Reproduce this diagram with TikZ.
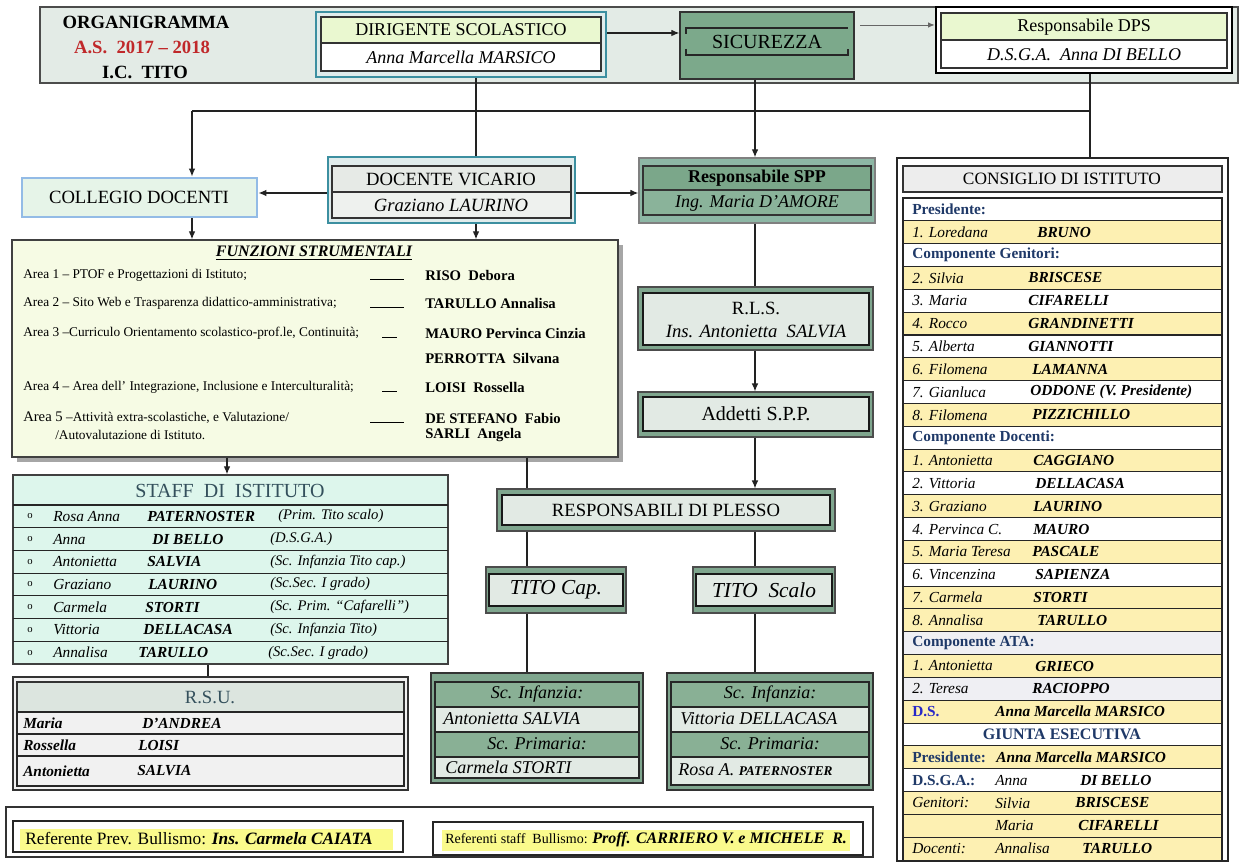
\documentclass[tikz,border=0pt]{standalone}
\usepackage{fontspec}
\setmainfont{Liberation Serif}
\usetikzlibrary{arrows.meta,fit}
\definecolor{bandfill}{HTML}{E3EBE6}
\definecolor{tealfr}{HTML}{3C8FA0}
\definecolor{tealbg}{HTML}{E0ECEC}
\definecolor{limef}{HTML}{EAF8D0}
\definecolor{sicg}{HTML}{7CA98B}
\definecolor{sppo}{HTML}{8DB7A5}
\definecolor{sppi}{HTML}{7BA78A}
\definecolor{sppr}{HTML}{8AB39A}
\definecolor{collf}{HTML}{E6F4E8}
\definecolor{collb}{HTML}{93BBE6}
\definecolor{vichf}{HTML}{E6EAE6}
\definecolor{vicrf}{HTML}{EEF1EE}
\definecolor{fsf}{HTML}{F6FBE4}
\definecolor{stf}{HTML}{DDF6EC}
\definecolor{gro}{HTML}{7FA68E}
\definecolor{gri}{HTML}{E2EAE4}
\definecolor{sch}{HTML}{89B095}
\definecolor{cyel}{HTML}{FDF0B2}
\definecolor{cgry}{HTML}{EFEFF3}
\definecolor{navy}{HTML}{1F3968}
\definecolor{dsblue}{HTML}{2828C8}
\definecolor{hl}{HTML}{FAFA8C}
\definecolor{redt}{HTML}{C0282A}
\definecolor{lc}{HTML}{222222}
\definecolor{rsuh}{HTML}{DCE5DF}
\definecolor{rsur}{HTML}{F1F1F1}
\definecolor{stfh}{HTML}{34505C}
\newcommand\fsz[1]{\fontsize{#1}{#1}\selectfont}
\newcommand\mybox[6]{\node[fit={(#2,#3)(#4,#5)},inner sep=0pt,#6] (#1) {};}
\newcommand\cyy[1]{198+(#1+0.5)*22.83}
\newcommand\syy[1]{505+(#1+0.5)*22.7}
\tikzset{
  ln/.style={draw=lc,line width=0.9pt},
  arr/.style={draw=lc,line width=0.9pt,-{Latex[length=6pt,width=5pt]}},
  arrg/.style={draw=black!60,line width=0.7pt,-{Latex[length=5pt,width=4pt]}},
  tx/.style={inner sep=0pt,text=black},
  txl/.style={tx,anchor=west},
  gout/.style={draw=black!70,line width=0.8pt,fill=gro},
  gin/.style={draw=black!90,line width=1.1pt,fill=gri},
  cx/.style={txl,font=\fsz{11.5}\itshape},
  cs/.style={txl,font=\fsz{11.5}\bfseries\itshape},
  ch/.style={txl,font=\fsz{11.5}\bfseries,text=navy},
  rowln/.style={draw=black!85,line width=0.8pt}
}
\newcommand\srow[6]{%
  \node[txl,font=\fsz{8}] (so#1) at (27,{\syy{#1}}) {o};
  \node[txl,font=\fsz{11.5}\itshape] (sf#1) at (53,{\syy{#1}}) {#2};
  \node[txl,font=\fsz{11.5}\bfseries\itshape] (ss#1) at (#4,{\syy{#1}}) {#3};
  \node[txl,font=\fsz{11}\itshape] (sn#1) at (#6,{\syy{#1}}) {#5};}
\newcommand\crow[4]{%
  \node[cx] (ca#1) at (912,{\cyy{#1}}) {#2};
  \node[cs] (cb#1) at (#4,{\cyy{#1}}) {#3};}
\begin{document}
\begin{tikzpicture}[x=0.75pt,y=-0.75pt]
\useasboundingbox (0,0) rectangle (1242,862);
\fill[white] (0,0) rectangle (1242,862);

% ---------- top band ----------
\mybox{band}{40}{7}{1238}{83}{draw=black!70,line width=1.1pt,fill=bandfill}
\node[tx,font=\fsz{14}\bfseries] (org1) at (146,22) {ORGANIGRAMMA};
\node[tx,font=\fsz{14}\bfseries,text=redt] (org2) at (142,47) {A.S.\ \ 2017 – 2018};
\node[tx,font=\fsz{14}\bfseries] (org3) at (145,72) {I.C.\ \ TITO};

\mybox{dirig}{316}{12}{606}{77}{draw=tealfr,line width=2.2pt,fill=tealbg}
\mybox{dirh}{321}{17}{601}{43}{draw=black!80,line width=0.8pt,fill=limef}
\mybox{dirr}{321}{43}{601}{71}{draw=black!80,line width=0.8pt,fill=white}
\node[tx,font=\fsz{13.5}] (dirt1) at (461,30) {DIRIGENTE SCOLASTICO};
\node[tx,font=\fsz{13.5}\itshape] (dirt2) at (461,57) {Anna Marcella MARSICO};

\mybox{sic}{680}{12}{854}{79}{draw=black!80,line width=1pt,fill=sicg}
\draw[black!85,line width=0.9pt] (686,34) -- (686,28) -- (848,28);
\draw[black!85,line width=0.9pt] (686,49) -- (686,55) -- (848,55) -- (848,49);
\node[tx,font=\fsz{15}] (sict) at (767,42) {SICUREZZA};

\mybox{dps}{936}{7}{1232}{73}{draw=black,line width=1.8pt,fill=white}
\mybox{dpsh}{941}{13}{1227}{40}{draw=black!80,line width=0.8pt,fill=limef}
\mybox{dpsr}{941}{40}{1227}{68}{draw=black!80,line width=0.8pt,fill=white}
\node[tx,font=\fsz{13.5}] (dpst1) at (1084,27) {Responsabile DPS};
\node[tx,font=\fsz{13.5}\itshape] (dpst2) at (1084,55) {D.S.G.A.\ \ Anna DI BELLO};

\coordinate (y33) at (0,33);
\coordinate (y25) at (0,25);
\draw[arr] (dirig.east |- y33) -- (sic.west |- y33);
\draw[arrg,shorten <=4pt] (sic.east |- y25) -- (dps.west |- y25);

% ---------- second row ----------
\mybox{coll}{22}{178}{257}{217}{draw=collb,line width=2.2pt,fill=collf}
\node[tx,font=\fsz{14}] (collt) at (139,197) {COLLEGIO DOCENTI};

\mybox{vic}{328}{157}{575}{223}{draw=tealfr,line width=2.2pt,fill=tealbg}
\mybox{vich}{332}{166}{571}{192}{draw=black!80,line width=0.8pt,fill=vichf}
\mybox{vicr}{332}{192}{571}{218}{draw=black!80,line width=0.8pt,fill=vicrf}
\node[tx,font=\fsz{14}] (vict1) at (451,179) {DOCENTE VICARIO};
\node[tx,font=\fsz{14}\itshape] (vict2) at (451,205) {Graziano LAURINO};

\mybox{spp}{639}{158}{875}{223}{draw=black!50,line width=1pt,fill=sppo}
\mybox{spph}{643}{166}{871}{190}{draw=black!80,line width=0.8pt,fill=sppi}
\mybox{sppr}{643}{190}{871}{215}{draw=black!80,line width=0.8pt,fill=sppr}
\node[tx,font=\fsz{13.5}\bfseries] (sppt1) at (757,178) {Responsabile SPP};
\node[tx,font=\fsz{13.5}\itshape] (sppt2) at (757,203) {Ing. Maria D’AMORE};

% consiglio frame (needed for connector)
\mybox{cons}{897}{158}{1228}{861}{draw=black!85,line width=1.2pt,fill=white}
\mybox{consh}{903}{166}{1222}{192}{draw=black!80,line width=0.8pt,fill=black!7}
\node[tx,font=\fsz{13}] (const) at (1062,179) {CONSIGLIO DI ISTITUTO};

\coordinate (j1) at (192,111);
\coordinate (j2) at (1090,111);
\coordinate (vx) at (476,0);
\coordinate (sx) at (755,0);
\coordinate (y193) at (0,193);
\draw[ln] (dps.south -| j2) -- (cons.north -| j2);
\draw[ln] (j2) -- (j1);
\draw[arr] (j1) -- (coll.north -| j1);
\draw[ln] (dirig.south -| vx) -- (vic.north -| vx);
\draw[arr] (sic.south -| sx) -- (spp.north -| sx);
\draw[arr] (vic.west |- y193) -- (coll.east |- y193);
\draw[arr] (vic.east |- y193) -- (spp.west |- y193);

% ---------- funzioni strumentali ----------
\fill[black!35] (17,245) rectangle (623,462);
\mybox{fs}{12}{240}{618}{457}{draw=black!75,line width=1pt,fill=fsf}
\draw[arr] (coll.south -| j1) -- (fs.north -| j1);
\draw[arr] (vic.south -| vx) -- (fs.north -| vx);
\node[tx,font=\fsz{12}\bfseries\itshape] (fst) at (314,253) {\underline{FUNZIONI STRUMENTALI}};
\node[txl,font=\fsz{10}] (fa1) at (23,275) {Area 1 – PTOF e Progettazioni di Istituto;};
\node[txl,font=\fsz{10}] (fa2) at (23,303) {Area 2 – Sito Web e Trasparenza didattico-amministrativa;};
\node[txl,font=\fsz{10}] (fa3) at (23,333) {Area 3 –Curriculo Orientamento scolastico-prof.le, Continuità;};
\node[txl,font=\fsz{10}] (fa4) at (23,387) {Area 4 – Area dell’ Integrazione, Inclusione e Interculturalità;};
\node[txl,font=\fsz{10}] (fa5) at (23,418) {{\fsz{11}Area 5} –Attività extra-scolastiche, e Valutazione/};
\node[txl,font=\fsz{10}] (fa6) at (55,435) {/Autovalutazione di Istituto.};
\node[tx,anchor=base west] (fb1) at (370,280) {\rule{25.5pt}{0.7pt}};
\node[tx,anchor=base west] (fb2) at (370,308) {\rule{25.5pt}{0.7pt}};
\node[tx,anchor=base west] (fb3) at (382,338) {\rule{11pt}{0.7pt}};
\node[tx,anchor=base west] (fb4) at (382,392) {\rule{11pt}{0.7pt}};
\node[tx,anchor=base west] (fb5) at (370,423) {\rule{25.5pt}{0.7pt}};
\node[txl,font=\fsz{11}\bfseries] (fn1) at (425,275) {RISO\ \ Debora};
\node[txl,font=\fsz{11}\bfseries] (fn2) at (425,303) {TARULLO Annalisa};
\node[txl,font=\fsz{11}\bfseries] (fn3) at (425,333) {MAURO Pervinca Cinzia};
\node[txl,font=\fsz{11}\bfseries] (fn4) at (425,358) {PERROTTA\ \ Silvana};
\node[txl,font=\fsz{11}\bfseries] (fn5) at (425,387) {LOISI\ \ Rossella};
\node[txl,font=\fsz{11}\bfseries] (fn6) at (425,418) {DE STEFANO\ \ Fabio};
\node[txl,font=\fsz{11}\bfseries] (fn7) at (425,435) {SARLI\ \ Angela};

% ---------- staff ----------
\coordinate (sfx) at (227,0);
\mybox{staff}{13}{475}{448}{664}{draw=black!75,line width=1pt,fill=stf}
\draw[arr] (fs.south -| sfx) -- (staff.north -| sfx);
\foreach \k in {0,...,6} \draw[rowln] (13,{505+\k*22.7}) -- (448,{505+\k*22.7});
\node[tx,font=\fsz{15},text=stfh] (stt) at (230,491) {STAFF\ \ DI\ \ ISTITUTO};
\srow{0}{Rosa Anna}{PATERNOSTER}{147}{(Prim. Tito scalo)}{278}
\srow{1}{Anna}{DI BELLO}{152}{(D.S.G.A.)}{270}
\srow{2}{Antonietta}{SALVIA}{147}{(Sc. Infanzia Tito cap.)}{270}
\srow{3}{Graziano}{LAURINO}{148}{(Sc.Sec. I grado)}{270}
\srow{4}{Carmela}{STORTI}{145}{(Sc. Prim. “Cafarelli”)}{270}
\srow{5}{Vittoria}{DELLACASA}{143}{(Sc. Infanzia Tito)}{270}
\srow{6}{Annalisa}{TARULLO}{138}{(Sc.Sec. I grado)}{268}

% ---------- RSU ----------
\coordinate (rx) at (208,0);
\mybox{rsu}{13}{677}{408}{790}{draw=black!80,line width=1pt,fill=rsur}
\draw[ln] (staff.south -| rx) -- (rsu.north -| rx);
\mybox{rsuhd}{17}{682}{404}{712}{draw=black!80,line width=0.8pt,fill=rsuh}
\draw[rowln] (17,712) rectangle (404,786);
\draw[rowln] (17,734) -- (404,734);
\draw[rowln] (17,756) -- (404,756);
\node[tx,font=\fsz{14},text=stfh] (rsut) at (210,697) {R.S.U.};
\node[txl,font=\fsz{11.5}\bfseries\itshape] (ru1) at (23,723) {Maria};
\node[txl,font=\fsz{11.5}\bfseries\itshape] (ru2) at (142,723) {D’ANDREA};
\node[txl,font=\fsz{11.5}\bfseries\itshape] (ru3) at (23,745) {Rossella};
\node[txl,font=\fsz{11.5}\bfseries\itshape] (ru4) at (138,745) {LOISI};
\node[txl,font=\fsz{11.5}\bfseries\itshape] (ru5) at (23,771) {Antonietta};
\node[txl,font=\fsz{11.5}\bfseries\itshape] (ru6) at (137,771) {SALVIA};

% ---------- middle column ----------
\mybox{rls}{638}{287}{873}{350}{gout}
\mybox{rlsi}{643}{293}{869}{345}{gin}
\node[tx,font=\fsz{14}] (rlst1) at (756,308) {R.L.S.};
\node[tx,font=\fsz{14}\itshape] (rlst2) at (756,331) {Ins. Antonietta\ \ SALVIA};
\draw[ln] (spp.south -| sx) -- (rls.north -| sx);

\mybox{add}{638}{392}{873}{437}{gout}
\mybox{addi}{643}{397}{869}{431}{gin}
\node[tx,font=\fsz{15}] (addt) at (756,414) {Addetti S.P.P.};
\draw[arr] (rls.south -| sx) -- (add.north -| sx);

\coordinate (px1) at (527,0);
\mybox{resp}{497}{489}{835}{531}{gout}
\mybox{respi}{502}{495}{830}{525}{gin}
\node[tx,font=\fsz{14}] (respt) at (666,510) {RESPONSABILI DI PLESSO};
\draw[arr] (add.south -| sx) -- (resp.north -| sx);
\draw[ln] (fs.south -| px1) -- (resp.north -| px1);

\mybox{tcap}{486}{567}{626}{613}{gout}
\mybox{tcapi}{489}{574}{623}{606}{gin}
\node[tx,font=\fsz{16}\itshape] (tcapt) at (556,590) {TITO Cap.};
\mybox{tsca}{693}{567}{835}{613}{gout}
\mybox{tscai}{696}{574}{832}{606}{gin}
\node[tx,font=\fsz{16}\itshape] (tscat) at (764,590) {TITO\ \ Scalo};
\draw[ln] (resp.south -| px1) -- (tcap.north -| px1);
\draw[ln] (resp.south -| sx) -- (tsca.north -| sx);

\mybox{scl}{431}{673}{643}{783}{draw=black!80,line width=1pt,fill=gro}
\draw[rowln,fill=sch] (435,682) rectangle (639,707);
\draw[rowln,fill=gri] (435,707) rectangle (639,732);
\draw[rowln,fill=sch] (435,732) rectangle (639,757);
\draw[rowln,fill=gri] (435,757) rectangle (639,778);
\node[tx,font=\fsz{13.5}\itshape] (sclt1) at (537,694) {Sc. Infanzia:};
\node[txl,font=\fsz{13.5}\itshape] (sclt2) at (443,719) {Antonietta SALVIA};
\node[tx,font=\fsz{13.5}\itshape] (sclt3) at (537,744) {Sc. Primaria:};
\node[txl,font=\fsz{13.5}\itshape] (sclt4) at (445,767) {Carmela STORTI};

\mybox{scr}{667}{673}{873}{790}{draw=black!80,line width=1pt,fill=gro}
\draw[rowln,fill=sch] (671,682) rectangle (869,707);
\draw[rowln,fill=gri] (671,707) rectangle (869,732);
\draw[rowln,fill=sch] (671,732) rectangle (869,757);
\draw[rowln,fill=gri] (671,757) rectangle (869,785);
\node[tx,font=\fsz{13.5}\itshape] (scrt1) at (770,694) {Sc. Infanzia:};
\node[txl,font=\fsz{13.5}\itshape] (scrt2) at (680,719) {Vittoria DELLACASA};
\node[tx,font=\fsz{13.5}\itshape] (scrt3) at (770,744) {Sc. Primaria:};
\node[txl,font=\fsz{13.5}\itshape] (scrt4) at (678,770) {Rosa A. {\fsz{10}\bfseries PATERNOSTER}};
\draw[ln] (tcap.south -| px1) -- (scl.north -| px1);
\draw[ln] (tsca.south -| sx) -- (scr.north -| sx);

% ---------- bottom ----------
\mybox{bot}{6}{807}{873}{857}{draw=black!80,line width=1pt,fill=white}
\mybox{bot1}{13}{821}{403}{852}{draw=black!85,line width=1pt,fill=white}
\fill[hl] (20,829) rectangle (393,850);
\node[txl,font=\fsz{13}] (bt1) at (25,839) {Referente Prev. Bullismo: {\bfseries\itshape Ins. Carmela CAIATA}};
\mybox{bot2}{433}{822}{863}{855}{draw=black!85,line width=1pt,fill=white}
\fill[hl] (442,830) rectangle (850,851);
\node[txl,font=\fsz{10.5}] (bt2) at (445,840) {Referenti staff\ \ Bullismo: {\fsz{12}\bfseries\itshape Proff. CARRIERO V. e MICHELE\ \ R.}};

% ---------- consiglio rows ----------
\foreach \i/\c in {0/white,1/cyel,2/white,3/cyel,4/white,5/cyel,6/white,7/cyel,8/white,9/cyel,10/white,11/cyel,12/white,13/cyel,14/white,15/cyel,16/white,17/cyel,18/cyel,19/cgry,20/cyel,21/cgry,22/cyel,23/white,24/cyel,25/white,26/cyel,27/cyel,28/cyel}
  \path[rowln,fill=\c] (903,{198+\i*22.83}) rectangle (1222,{198+(\i+1)*22.83});
\node[ch] (ch0) at (912,{\cyy{0}}) {Presidente:};
\crow{1}{1. Loredana}{BRUNO}{1037}
\node[ch] (ch2) at (912,{\cyy{2}}) {Componente Genitori:};
\crow{3}{2. Silvia}{BRISCESE}{1028}
\crow{4}{3. Maria}{CIFARELLI}{1028}
\crow{5}{4. Rocco}{GRANDINETTI}{1028}
\crow{6}{5. Alberta}{GIANNOTTI}{1028}
\crow{7}{6. Filomena}{LAMANNA}{1032}
\crow{8}{7. Gianluca}{ODDONE (V. Presidente)}{1030}
\crow{9}{8. Filomena}{PIZZICHILLO}{1032}
\node[ch] (ch10) at (912,{\cyy{10}}) {Componente Docenti:};
\crow{11}{1. Antonietta}{CAGGIANO}{1033}
\crow{12}{2. Vittoria}{DELLACASA}{1035}
\crow{13}{3. Graziano}{LAURINO}{1033}
\crow{14}{4. Pervinca C.}{MAURO}{1033}
\crow{15}{5. Maria Teresa}{PASCALE}{1032}
\crow{16}{6. Vincenzina}{SAPIENZA}{1035}
\crow{17}{7. Carmela}{STORTI}{1033}
\crow{18}{8. Annalisa}{TARULLO}{1037}
\node[ch] (ch19) at (912,{\cyy{19}}) {Componente ATA:};
\crow{20}{1. Antonietta}{GRIECO}{1035}
\crow{21}{2. Teresa}{RACIOPPO}{1032}
\node[ch,text=dsblue] (ch22) at (912,{\cyy{22}}) {D.S.};
\node[cs] (cb22) at (995,{\cyy{22}}) {Anna Marcella MARSICO};
\node[tx,font=\fsz{12}\bfseries,text=navy] (ch23) at (1062,{\cyy{23}}) {GIUNTA ESECUTIVA};
\node[ch] (ch24) at (912,{\cyy{24}}) {Presidente:};
\node[cs] (cb24) at (996,{\cyy{24}}) {Anna Marcella MARSICO};
\node[ch] (ch25) at (912,{\cyy{25}}) {D.S.G.A.:};
\node[cx] (ca25) at (995,{\cyy{25}}) {Anna};
\node[cs] (cb25) at (1080,{\cyy{25}}) {DI BELLO};
\node[cx] (ch26) at (912,{\cyy{26}}) {Genitori:};
\node[cx] (ca26) at (995,{\cyy{26}}) {Silvia};
\node[cs] (cb26) at (1075,{\cyy{26}}) {BRISCESE};
\node[cx] (ca27) at (995,{\cyy{27}}) {Maria};
\node[cs] (cb27) at (1078,{\cyy{27}}) {CIFARELLI};
\node[cx] (ch28) at (912,{\cyy{28}}) {Docenti:};
\node[cx] (ca28) at (995,{\cyy{28}}) {Annalisa};
\node[cs] (cb28) at (1082,{\cyy{28}}) {TARULLO};
\end{tikzpicture}
\end{document}
